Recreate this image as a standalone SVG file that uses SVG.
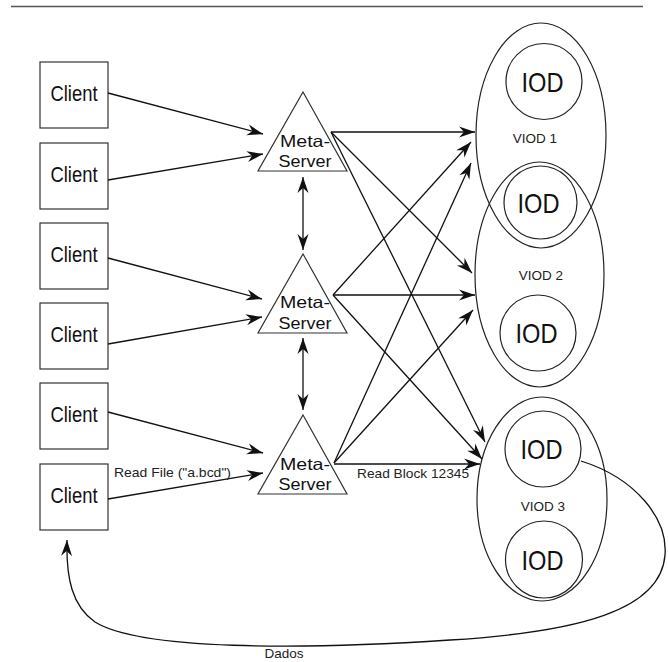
<svg xmlns="http://www.w3.org/2000/svg" width="668" height="662" viewBox="0 0 668 662">
<style>
.box{fill:#fff;stroke:#333;stroke-width:1.2}
.shape{fill:none;stroke:#222;stroke-width:1.2}
.tri{fill:#fff;stroke:#333;stroke-width:1.2}
.con{fill:none;stroke:#111;stroke-width:1.3}
.ct{font-family:"Liberation Sans",Arial,sans-serif;font-size:22px;fill:#111}
.iod{font-family:"Liberation Sans",Arial,sans-serif;font-size:28px;fill:#111}
.ms{font-family:"Liberation Sans",Arial,sans-serif;font-size:16.5px;fill:#111}
.lbl{font-family:"Liberation Sans",Arial,sans-serif;font-size:13.5px;fill:#222}
</style>
<defs>
<marker id="ah" viewBox="-17 -7 18 14" refX="0" refY="0" markerWidth="18" markerHeight="14" markerUnits="userSpaceOnUse" orient="auto-start-reverse">
<path d="M0,0 L-16,-5.5 L-11,0 L-16,5.5 Z" fill="#111"/>
</marker>
</defs>
<rect width="668" height="662" fill="#fff"/>
<line x1="11" y1="6.5" x2="643" y2="6.5" stroke="#555" stroke-width="1.5"/>

<g id="viod1">
<ellipse class="shape" cx="541" cy="135.5" rx="65" ry="112.5"/>
<text class="lbl" x="535" y="143.3" text-anchor="middle">VIOD 1</text>
</g>
<g id="viod2">
<ellipse class="shape" cx="539.5" cy="274.5" rx="64.5" ry="112.5"/>
<text class="lbl" x="541" y="280" text-anchor="middle">VIOD 2</text>
</g>
<g id="viod3">
<ellipse class="shape" cx="542" cy="499" rx="65" ry="102"/>
<text class="lbl" x="543" y="510.7" text-anchor="middle">VIOD 3</text>
</g>
<g id="iod1">
<circle class="shape" cx="544" cy="81.5" r="38"/>
<text class="iod" x="542.5" y="91.7" text-anchor="middle" textLength="42" lengthAdjust="spacingAndGlyphs">IOD</text>
</g>
<g id="iod2">
<circle class="shape" cx="540.5" cy="202.5" r="36.5"/>
<text class="iod" x="538.5" y="212.5" text-anchor="middle" textLength="42" lengthAdjust="spacingAndGlyphs">IOD</text>
</g>
<g id="iod3">
<circle class="shape" cx="538" cy="333" r="38"/>
<text class="iod" x="536.5" y="343" text-anchor="middle" textLength="42" lengthAdjust="spacingAndGlyphs">IOD</text>
</g>
<g id="iod4">
<circle class="shape" cx="543" cy="449" r="38"/>
<text class="iod" x="541.5" y="459" text-anchor="middle" textLength="42" lengthAdjust="spacingAndGlyphs">IOD</text>
</g>
<g id="iod5">
<circle class="shape" cx="544" cy="559.5" r="38.5"/>
<text class="iod" x="542.5" y="569.5" text-anchor="middle" textLength="42" lengthAdjust="spacingAndGlyphs">IOD</text>
</g>

<g id="client1"><rect class="box" x="40" y="62" width="68" height="66"/><text class="ct" x="74" y="101" text-anchor="middle" textLength="47" lengthAdjust="spacingAndGlyphs">Client</text></g>
<g id="client2"><rect class="box" x="40" y="143" width="68" height="66"/><text class="ct" x="74" y="182" text-anchor="middle" textLength="47" lengthAdjust="spacingAndGlyphs">Client</text></g>
<g id="client3"><rect class="box" x="40" y="223" width="68" height="66"/><text class="ct" x="74" y="262" text-anchor="middle" textLength="47" lengthAdjust="spacingAndGlyphs">Client</text></g>
<g id="client4"><rect class="box" x="40" y="303" width="68" height="66"/><text class="ct" x="74" y="342" text-anchor="middle" textLength="47" lengthAdjust="spacingAndGlyphs">Client</text></g>
<g id="client5"><rect class="box" x="40" y="383" width="68" height="66"/><text class="ct" x="74" y="422" text-anchor="middle" textLength="47" lengthAdjust="spacingAndGlyphs">Client</text></g>
<g id="client6"><rect class="box" x="40" y="464" width="68" height="66"/><text class="ct" x="74" y="503" text-anchor="middle" textLength="47" lengthAdjust="spacingAndGlyphs">Client</text></g>

<g id="server1">
<polygon class="tri" points="303,92 347,171 258,171"/>
<text class="ms" x="280" y="146.7" textLength="50" lengthAdjust="spacingAndGlyphs">Meta-</text>
<text class="ms" x="278.5" y="167.3" textLength="53" lengthAdjust="spacingAndGlyphs">Server</text>
</g>
<g id="server2">
<polygon class="tri" points="303,254 347,333 258,333"/>
<text class="ms" x="280" y="308.3" textLength="50" lengthAdjust="spacingAndGlyphs">Meta-</text>
<text class="ms" x="278.5" y="329.3" textLength="53" lengthAdjust="spacingAndGlyphs">Server</text>
</g>
<g id="server3">
<polygon class="tri" points="303,415 347,494 258,494"/>
<text class="ms" x="280" y="469.5" textLength="50" lengthAdjust="spacingAndGlyphs">Meta-</text>
<text class="ms" x="278.5" y="490.1" textLength="53" lengthAdjust="spacingAndGlyphs">Server</text>
</g>

<g id="connectors">
<g class="con" marker-end="url(#ah)">
<line x1="108" y1="93" x2="263" y2="134"/>
<line x1="108" y1="180" x2="263" y2="154"/>
<line x1="108" y1="258" x2="262" y2="299"/>
<line x1="108" y1="344" x2="262" y2="317"/>
<line x1="108" y1="412" x2="263" y2="453"/>
<line x1="108" y1="499" x2="263" y2="473"/>

<line x1="331" y1="132" x2="475" y2="132"/>
<line x1="331" y1="132" x2="472" y2="273"/>
<line x1="331" y1="132" x2="485" y2="442"/>
<line x1="333" y1="295" x2="471" y2="142"/>
<line x1="333" y1="295" x2="475" y2="295"/>
<line x1="333" y1="295" x2="482" y2="459"/>
<line x1="334" y1="463" x2="471" y2="163"/>
<line x1="334" y1="463" x2="473" y2="310"/>
<line x1="334" y1="464" x2="480" y2="464"/>

<line x1="303" y1="177" x2="303" y2="250" marker-start="url(#ah)"/>
<line x1="303" y1="338" x2="303" y2="410" marker-start="url(#ah)"/>

<path d="M581,461 C635,478 668,518 665,555 C661,610 580,632 450,640 C300,650 140,650 95,622 C72,606 66,578 67,540"/>
</g>
<text class="lbl" x="114" y="476.7" textLength="117" lengthAdjust="spacingAndGlyphs">Read File ("a.bcd")</text>
<text class="lbl" x="357" y="478" textLength="112" lengthAdjust="spacingAndGlyphs">Read Block 12345</text>
<text class="lbl" x="284" y="658" text-anchor="middle" font-size="13">Dados</text>
</g>
</svg>
